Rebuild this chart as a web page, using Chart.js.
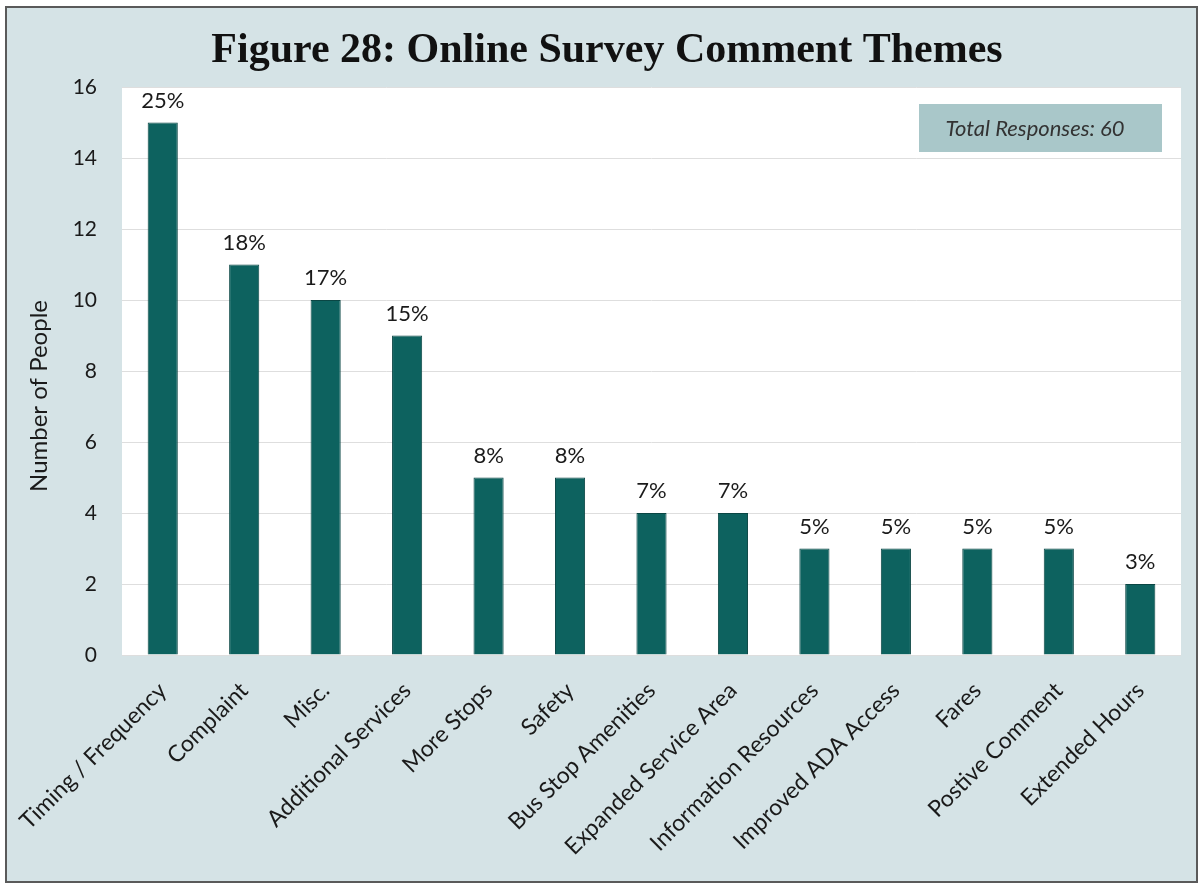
<!DOCTYPE html>
<html>
<head>
<meta charset="utf-8">
<script src="https://cdn.jsdelivr.net/npm/chart.js@4/dist/chart.umd.min.js"></script>
<style>
  html, body { margin: 0; padding: 0; background: #ffffff; }
  #wrap { width: 1203px; height: 885px; }
</style>
</head>
<body>
<div id="wrap"><canvas id="c" width="1203" height="885"></canvas></div>
<script>
// Comment themes and the number of people mentioning each
const themes = [
  'Timing / Frequency', 'Complaint', 'Misc.', 'Additional Services',
  'More Stops', 'Safety', 'Bus Stop Amenities', 'Expanded Service Area',
  'Information Resources', 'Improved ADA Access', 'Fares',
  'Postive Comment', 'Extended Hours'
];
const people = [15, 11, 10, 9, 5, 5, 4, 4, 3, 3, 3, 3, 2];
const totalResponses = 60;
const yTicks = [0, 2, 4, 6, 8, 10, 12, 14, 16];

const chartTitle = 'Figure 28: Online Survey Comment Themes';
const yTitle = 'Number of People';
const totalText = 'Total Responses: ' + totalResponses;

const BODY_FONT = 'Lato, "Open Sans", sans-serif';

// Panel background, frame, white plot area, titles and totals box
const framePlugin = {
  id: 'frame',
  beforeDraw(chart) {
    const ctx = chart.ctx;
    const a = chart.chartArea;
    ctx.save();
    ctx.fillStyle = '#ffffff';
    ctx.fillRect(0, 0, chart.width, chart.height);
    ctx.fillStyle = '#d5e3e6';
    ctx.fillRect(6, 7, 1191, 875);
    ctx.strokeStyle = '#5a5a5a';
    ctx.lineWidth = 2;
    ctx.strokeRect(6, 7, 1191, 875);
    ctx.fillStyle = '#ffffff';
    ctx.fillRect(a.left, a.top, a.right - a.left, a.bottom - a.top);
    ctx.restore();
  },
  afterDraw(chart) {
    const ctx = chart.ctx;
    ctx.save();
    // chart title
    ctx.fillStyle = '#111111';
    ctx.font = 'bold 42px "Liberation Serif", serif';
    ctx.textAlign = 'center';
    ctx.textBaseline = 'alphabetic';
    ctx.fillText(chartTitle, 607, 62);
    // vertical axis title
    ctx.save();
    ctx.translate(39, 396);
    ctx.rotate(-Math.PI / 2);
    ctx.fillStyle = '#1a1a1a';
    ctx.font = '24px ' + BODY_FONT;
    ctx.textAlign = 'center';
    ctx.textBaseline = 'middle';
    ctx.fillText(yTitle, 0, 0);
    ctx.restore();
    // totals box
    ctx.fillStyle = '#a9c7c9';
    ctx.fillRect(919, 104, 243, 48);
    ctx.fillStyle = '#333333';
    ctx.font = 'italic 22px ' + BODY_FONT;
    ctx.textAlign = 'center';
    ctx.textBaseline = 'middle';
    ctx.fillText(totalText, 1035, 129);
    // percentage labels over bars
    const meta = chart.getDatasetMeta(0);
    ctx.fillStyle = '#1a1a1a';
    ctx.font = '22px ' + BODY_FONT;
    ctx.textBaseline = 'middle';
    meta.data.forEach((bar, i) => {
      const pct = Math.round(people[i] / totalResponses * 100) + '%';
      ctx.fillText(pct, bar.x, bar.y - 22);
    });
    ctx.restore();
  }
};

new Chart(document.getElementById('c'), {
  type: 'bar',
  data: {
    labels: themes,
    datasets: [{
      data: people,
      backgroundColor: '#0d625f',
      borderColor: '#0a4644',
      borderWidth: 1,
      barPercentage: 0.74,
      categoryPercentage: 0.5
    }]
  },
  options: {
    responsive: false,
    animation: false,
    devicePixelRatio: 1,
    layout: { padding: { top: 87, right: 22, bottom: 0, left: 0 } },
    plugins: {
      legend: { display: false },
      tooltip: { enabled: false },
      title: { display: false }
    },
    scales: {
      x: {
        grid: { display: false, drawTicks: false },
        border: { display: false },
        ticks: {
          color: '#1a1a1a',
          font: { family: BODY_FONT, size: 23 },
          minRotation: 45,
          maxRotation: 45,
          autoSkip: false,
          padding: 22
        },
        afterFit(scale) {
          scale.height = 885 - 655;
          scale.paddingLeft = 0;
          scale.paddingRight = 0;
        }
      },
      y: {
        min: 0,
        max: 16,
        afterBuildTicks(scale) { scale.ticks = yTicks.map(v => ({ value: v })); },
        grid: { color: '#dedede', lineWidth: 1, drawTicks: false },
        border: { display: false },
        ticks: {
          color: '#1a1a1a',
          font: { family: BODY_FONT, size: 21 },
          padding: 25
        },
        afterFit(scale) { scale.width = 122; }
      }
    }
  },
  plugins: [framePlugin]
});
</script>
</body>
</html>
